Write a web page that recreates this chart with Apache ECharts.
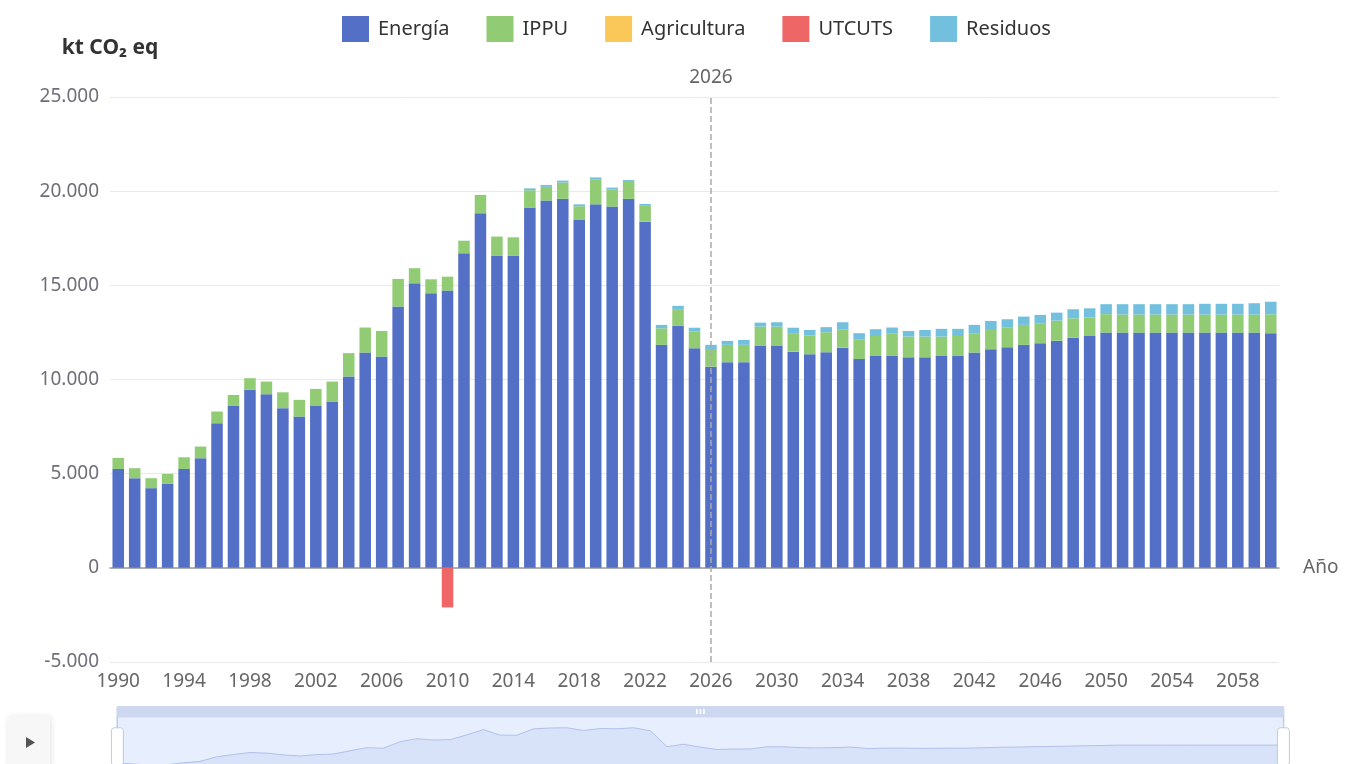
<!DOCTYPE html>
<html>
<head>
<meta charset="utf-8">
<script src="https://cdn.jsdelivr.net/npm/echarts@6/dist/echarts.min.js"></script>
<style>
  html, body { margin: 0; padding: 0; background: #ffffff; }
  #chart { width: 1360px; height: 764px; }
</style>
</head>
<body>
<div id="chart"></div>
<script>
// Years 1990–2060
const years = [];
for (let y = 1990; y <= 2060; y++) years.push(String(y));

// Emissions by sector, kt CO2 eq
const energia = [
  5250, 4760, 4230, 4460, 5250, 5820, 7680, 8620, 9450, 9220,
  8480, 8030, 8620, 8830, 10160, 11430, 11220, 13870, 15110, 14580,
  14720, 16700, 18830, 16560, 16560, 19130, 19500, 19590, 18470, 19300,
  19180, 19590, 18380, 11840, 12850, 11660, 10680, 10920, 10920, 11800,
  11800, 11480, 11340, 11450, 11690, 11090, 11250, 11280, 11180, 11180,
  11250, 11250, 11430, 11610, 11710, 11840, 11930, 12060, 12220, 12310,
  12490, 12490, 12490, 12490, 12490, 12490, 12490, 12490, 12490, 12490,
  12460
];
const ippu = [
  590, 530, 530, 530, 620, 620, 620, 560, 620, 670,
  840, 890, 880, 1060, 1240, 1330, 1360, 1470, 800, 740,
  740, 670, 970, 1030, 990, 920, 730, 870, 730, 1330,
  910, 900, 840, 880, 850, 880, 940, 920, 920, 1010,
  1010, 980, 990, 1060, 980, 1050, 1060, 1150, 1100, 1100,
  1030, 1060, 1030, 1020, 1040, 1060, 1060, 1070, 1030, 980,
  980, 960, 960, 960, 960, 960, 960, 960, 960, 960,
  1000
];
const agricultura = [
  0, 0, 0, 0, 0, 0, 0, 0, 0, 0,
  0, 0, 0, 0, 0, 0, 0, 0, 0, 0,
  0, 0, 0, 0, 0, 0, 0, 0, 0, 0,
  0, 0, 0, 0, 0, 0, 0, 0, 0, 0,
  0, 0, 0, 0, 0, 0, 0, 0, 0, 0,
  0, 0, 0, 0, 0, 0, 0, 0, 0, 0,
  0, 0, 0, 0, 0, 0, 0, 0, 0, 0,
  0
];
const utcuts = [
  0, 0, 0, 0, 0, 0, 0, 0, 0, 0,
  0, 0, 0, 0, 0, 0, 0, 0, 0, 0,
  -2100, 0, 0, 0, 0, 0, 0, 0, 0, 0,
  0, 0, 0, 0, 0, 0, 0, 0, 0, 0,
  0, 0, 0, 0, 0, 0, 0, 0, 0, 0,
  0, 0, 0, 0, 0, 0, 0, 0, 0, 0,
  0, 0, 0, 0, 0, 0, 0, 0, 0, 0,
  0
];
const residuos = [
  0, 0, 0, 0, 0, 0, 0, 0, 0, 0,
  0, 0, 0, 0, 0, 0, 0, 0, 0, 0,
  0, 0, 0, 0, 0, 100, 100, 100, 100, 100,
  100, 100, 100, 180, 210, 210, 220, 210, 260, 210,
  230, 290, 300, 270, 370, 320, 360, 330, 300, 350,
  410, 380, 440, 480, 450, 440, 440, 420, 480, 490,
  530, 550, 550, 550, 550, 550, 570, 570, 570, 600,
  670
];

const yTicks = { min: -5000, max: 25000, step: 5000 };
const markYear = '2026';

const sectorNames = ['Energía', 'IPPU', 'Agricultura', 'UTCUTS', 'Residuos'];
const sectorData = [energia, ippu, agricultura, utcuts, residuos];
const sectorColors = ['#5470c6', '#91cc75', '#fac858', '#ee6666', '#73c0de'];

const FONT = '"Noto Sans", sans-serif';
const fmtThousands = v => {
  const s = Math.abs(v).toString().replace(/\B(?=(\d{3})+(?!\d))/g, '.');
  return (v < 0 ? '-' : '') + s;
};

const series = sectorNames.map((name, i) => ({
  name,
  type: 'bar',
  stack: 'total',
  xAxisIndex: 0,
  data: sectorData[i],
  barCategoryGap: '30%',
  itemStyle: { color: sectorColors[i] },
  emphasis: { focus: 'series' }
}));

series[0].markLine = {
  silent: true,
  symbol: 'none',
  lineStyle: { color: '#aaaaaa', type: 'dashed', width: 1.5 },
  label: {
    show: true, position: 'end', distance: 10,
    formatter: markYear, color: '#666', fontSize: 19, fontFamily: FONT
  },
  data: [{ xAxis: markYear }]
};

const chart = echarts.init(document.getElementById('chart'));
chart.setOption({
  animation: false,
  color: sectorColors,
  textStyle: { fontFamily: FONT },
  legend: {
    data: sectorNames,
    left: 342,
    top: 16,
    padding: 0,
    icon: 'rect',
    itemWidth: 27,
    itemHeight: 26,
    itemGap: 37,
    textStyle: { fontSize: 20, color: '#333', fontFamily: FONT, padding: [0, 0, 0, 4] }
  },
  grid: { left: 110, right: 81, top: 97, bottom: 102, containLabel: false },
  xAxis: [
    {
      type: 'category',
      data: years,
      position: 'bottom',
      name: 'Año',
      nameLocation: 'end',
      nameGap: 24,
      nameTextStyle: { fontSize: 19, color: '#666', fontFamily: FONT },
      axisLine: { onZero: true, lineStyle: { color: '#999', width: 1.5 } },
      axisTick: { show: false },
      axisLabel: { show: false },
      splitLine: { show: false }
    },
    {
      type: 'category',
      data: years,
      position: 'bottom',
      axisLine: { show: false, onZero: false },
      axisTick: { show: false },
      axisLabel: {
        interval: 3, fontSize: 19, color: '#666', margin: 10, fontFamily: FONT
      },
      splitLine: { show: false }
    }
  ],
  yAxis: {
    type: 'value',
    min: yTicks.min,
    max: yTicks.max,
    interval: yTicks.step,
    name: 'kt CO₂ eq',
    nameLocation: 'end',
    nameGap: 38,
    nameTextStyle: { fontSize: 21, fontWeight: 'bold', color: '#333', fontFamily: FONT },
    axisLine: { show: false },
    axisTick: { show: false },
    axisLabel: { fontSize: 19, color: '#6e7079', margin: 11, formatter: fmtThousands, fontFamily: FONT },
    splitLine: { lineStyle: { color: '#e6e9f0' } }
  },
  dataZoom: [
    {
      type: 'slider',
      xAxisIndex: [0, 1],
      start: 0,
      end: 100,
      left: 112,
      right: 80,
      top: 706,
      height: 60,
      moveHandleSize: 11,
      moveHandleStyle: { color: '#cdd7ef', opacity: 1 },
      showDetail: false,
      borderColor: '#d2dbee',
      fillerColor: 'rgba(135,175,274,0.2)',
      backgroundColor: 'rgba(47,69,84,0)',
      dataBackground: {
        lineStyle: { color: '#a9bde8', width: 1 },
        areaStyle: { color: '#c9d7f3', opacity: 0.6 }
      }
    },
    { type: 'inside', xAxisIndex: [0, 1] }
  ],
  graphic: [
    {
      type: 'group',
      left: 8,
      top: 716,
      children: [
        {
          type: 'rect',
          shape: { x: 0, y: 0, width: 42, height: 52, r: 3 },
          style: {
            fill: '#f7f7f8',
            shadowBlur: 6, shadowColor: 'rgba(0,0,0,0.12)', shadowOffsetX: 1, shadowOffsetY: 1
          }
        },
        {
          type: 'polygon',
          shape: { points: [[18, 21], [18, 32], [27, 26.5]] },
          style: { fill: '#555' }
        }
      ]
    }
  ],
  series
});
</script>
</body>
</html>
